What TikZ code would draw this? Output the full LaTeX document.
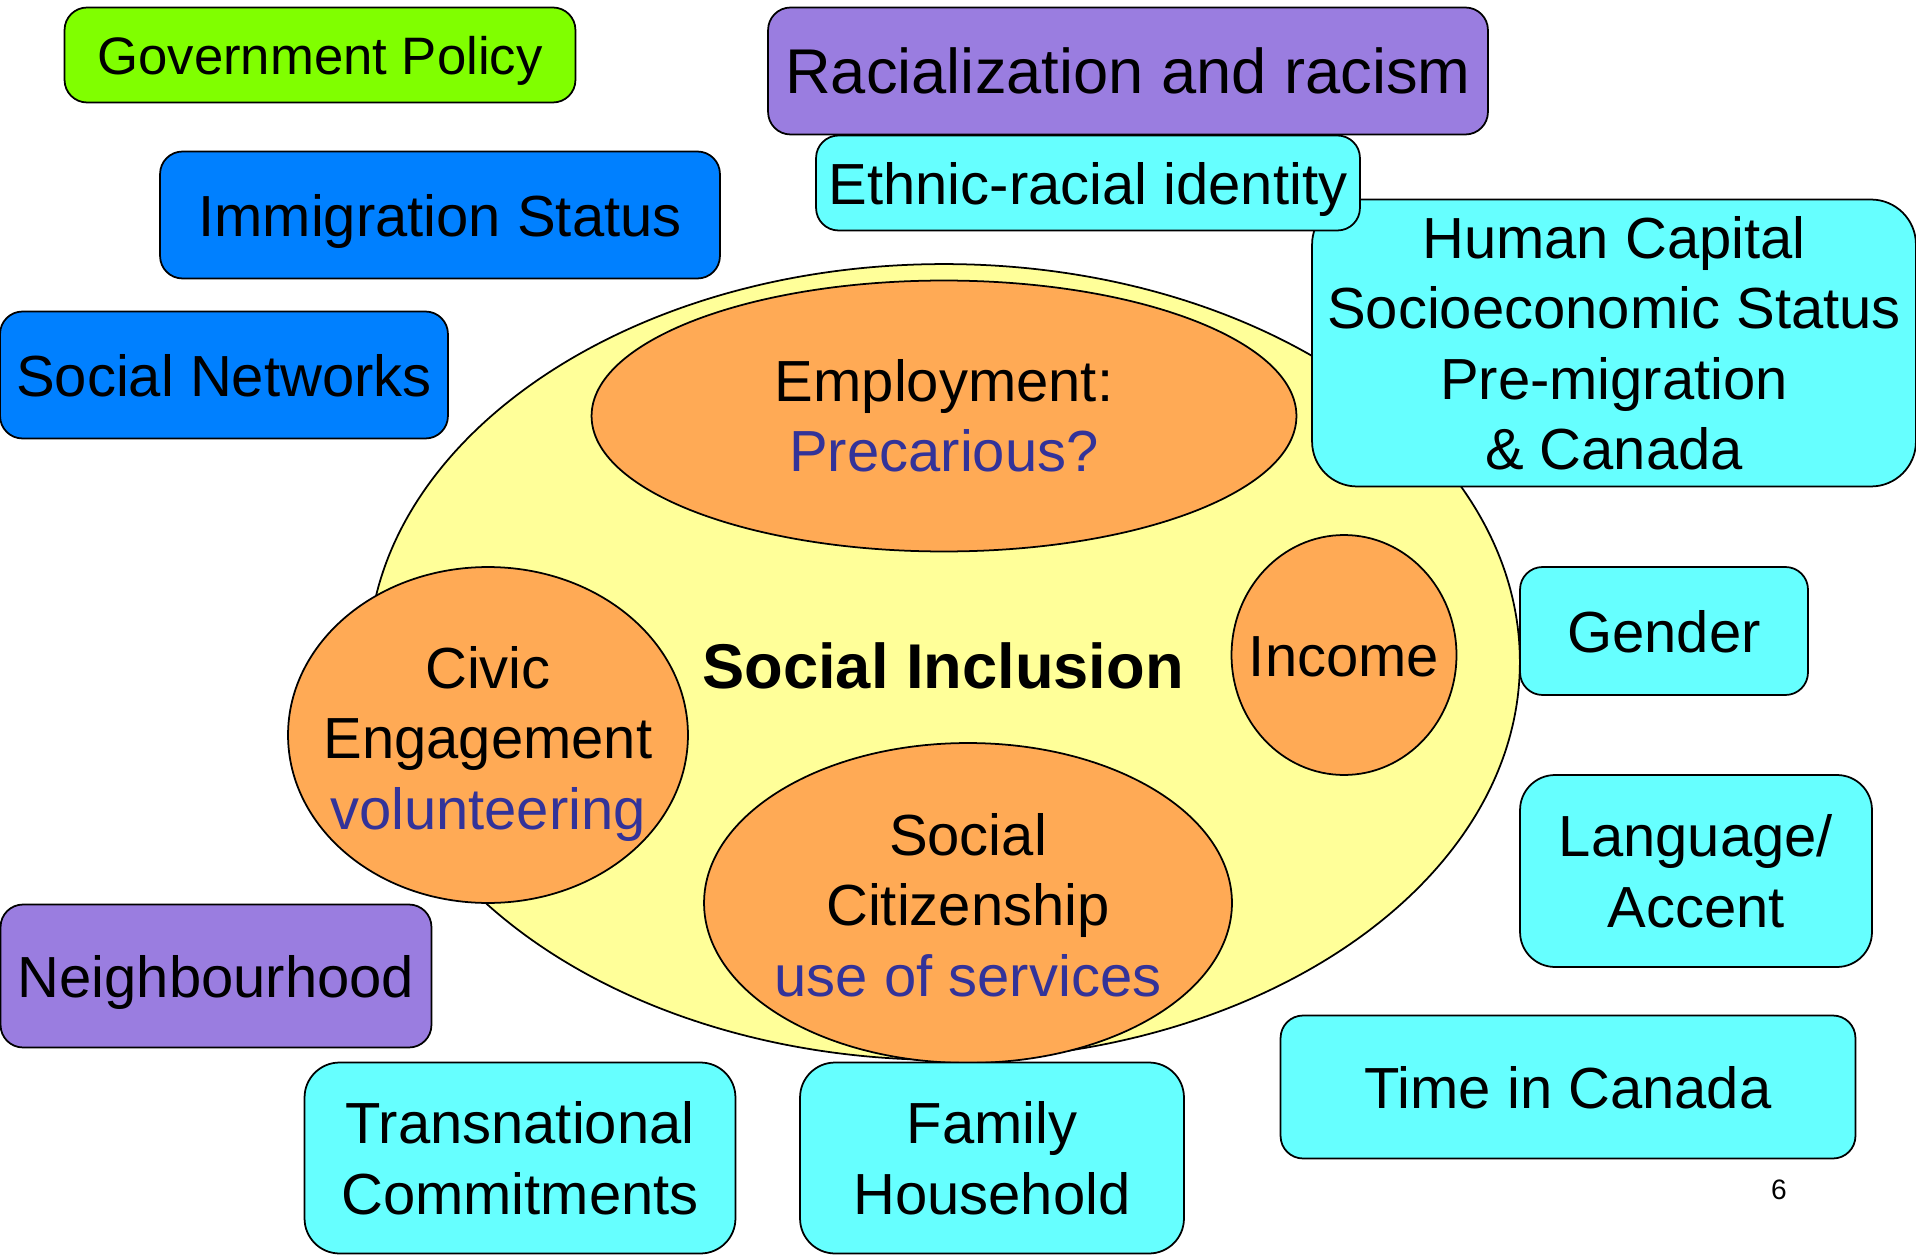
\documentclass[tikz,border=0pt]{standalone}
\usepackage{fontspec}
\setmainfont{Liberation Sans}
\usetikzlibrary{shapes.geometric}

\definecolor{policygreen}{HTML}{80FF00}
\definecolor{racepurple}{HTML}{9A7DE0}
\definecolor{statusblue}{HTML}{0080FF}
\definecolor{factorcyan}{HTML}{66FFFF}
\definecolor{inclyellow}{HTML}{FFFF99}
\definecolor{ovalorange}{HTML}{FFAA55}
\definecolor{notenavy}{HTML}{333399}

\tikzset{
  box/.style={draw=black, line width=1pt, rounded corners=0.45cm, align=center, inner sep=0pt, text depth=0pt, font=\fontsize{33}{40}\selectfont},
  oval/.style={draw=black, line width=1pt, ellipse, inner sep=0pt, fill=ovalorange},
  txt/.style={align=center, inner sep=0pt, font=\fontsize{33}{40}\selectfont},
}

\begin{document}
\begin{tikzpicture}[x=0.02cm,y=-0.02cm]
        \useasboundingbox (0,0) rectangle (1916,1256);
        % social inclusion and its parts
        \node[oval, fill=inclyellow, minimum width=23.04cm, minimum height=15.92cm] (incl) at (944,662) {};
        \node[oval, minimum width=14.1cm, minimum height=5.42cm] (employ) at (944,416) {};
        \node[oval, minimum width=8cm, minimum height=6.72cm] (civic) at (488,735) {};
        \node[oval, minimum width=4.5cm, minimum height=4.8cm] (income) at (1344,655) {};
        \node[oval, minimum width=10.56cm, minimum height=6.4cm] (citizen) at (968,903) {};
        \node[txt, font=\fontsize{36}{43}\selectfont\bfseries] (incltext) at (943,666) {Social Inclusion};
        \node[txt] (employtext) at (employ) {Employment:\\\textcolor{notenavy}{Precarious?}};
        \node[txt] (civictext) at (488,744) {Civic\\Engagement\\\textcolor{notenavy}{volunteering}};
        \node[txt] (incometext) at (1344,657) {Income};
        \node[txt] (citizentext) at (968,905) {Social\\Citizenship\\\textcolor{notenavy}{use of services}};
        % factors around it
        \node[box, fill=policygreen, minimum width=10.22cm, minimum height=1.9cm, font=\fontsize{30}{36}\selectfont] (policy) at (320,55) {Government Policy};
        \node[box, fill=racepurple, minimum width=14.4cm, minimum height=2.54cm, font=\fontsize{36}{43}\selectfont] (racism) at (1128,71) {Racialization and racism};
        \node[box, fill=statusblue, minimum width=11.2cm, minimum height=2.54cm] (status) at (440,215) {Immigration Status};
        \node[box, fill=factorcyan, minimum width=12.08cm, minimum height=5.74cm, rounded corners=0.9cm] (capital) at (1614,343) {Human Capital\\Socioeconomic Status\\Pre-migration\\\& Canada};
        \node[box, fill=factorcyan, minimum width=10.88cm, minimum height=1.9cm] (ethnic) at (1088,183) {Ethnic-racial identity};
        \node[box, fill=statusblue, minimum width=8.96cm, minimum height=2.54cm] (networks) at (224,375) {Social Networks};
        \node[box, fill=factorcyan, minimum width=5.76cm, minimum height=2.56cm] (gender) at (1664,631) {Gender};
        \node[box, fill=factorcyan, minimum width=7.04cm, minimum height=3.84cm, rounded corners=0.7cm] (language) at (1696,871) {Language/\\Accent};
        \node[box, fill=racepurple, minimum width=8.62cm, minimum height=2.86cm] (neighbour) at (216,976) {Neighbourhood};
        \node[box, fill=factorcyan, minimum width=11.5cm, minimum height=2.86cm] (time) at (1568,1087) {Time in Canada};
        \node[box, fill=factorcyan, minimum width=8.62cm, minimum height=3.82cm, rounded corners=0.7cm] (transnat) at (520,1158) {Transnational\\Commitments};
        \node[box, fill=factorcyan, minimum width=7.68cm, minimum height=3.82cm, rounded corners=0.7cm] (family) at (992,1158) {Family\\Household};
        \node[txt, font=\fontsize{16}{19}\selectfont] (pagenum) at (1779,1190) {6};
\end{tikzpicture}
\end{document}
